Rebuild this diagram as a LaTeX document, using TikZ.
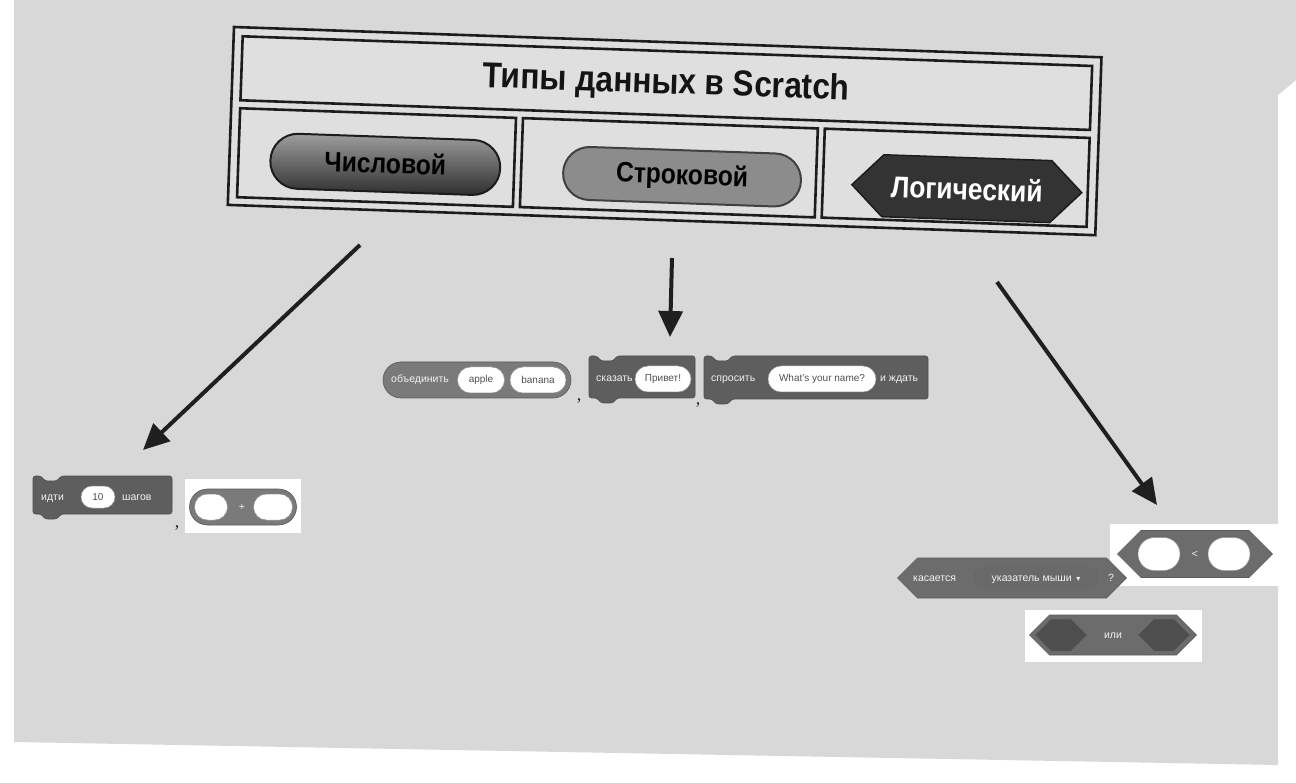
\documentclass[tikz,border=0pt]{standalone}
\usepackage{fontspec}
\setmainfont{Liberation Sans}
\newfontfamily\narb[FakeStretch=0.88]{Liberation Sans Bold}
\newfontfamily\serifc{Liberation Serif}
\newfontfamily\dejavu{DejaVu Sans}
\usetikzlibrary{arrows.meta,shapes.misc,shapes.symbols}
\definecolor{paper}{HTML}{D8D8D8}
\definecolor{cellbg}{HTML}{DFDFDF}
\definecolor{tcol}{HTML}{1C1C1C}
\definecolor{blkA}{HTML}{7A7A7A}
\definecolor{blkB}{HTML}{5E5E5E}
\definecolor{blkC}{HTML}{6C6C6C}
\definecolor{blkD}{HTML}{4E4E4E}
\definecolor{ovtxt}{HTML}{505050}
\newcommand{\scrstack}[5][]{%
  \draw[stackblk,#1] (#2,#5) -- (#2,#3) -- ({#2+8},#3) -- ({#2+12},{#3+5}) -- ({#2+24},{#3+5}) -- ({#2+28},#3) -- (#4,#3) -- (#4,#5) -- ({#2+28},#5) -- ({#2+24},{#5+5}) -- ({#2+12},{#5+5}) -- ({#2+8},#5) -- cycle;}
\begin{document}
\begin{tikzpicture}[x=1pt,y=-1pt,
  tline/.style={line width=2.6pt, draw=tcol},
  pillnum/.style={rounded rectangle, draw=tcol, line width=2pt, top color=black!38, bottom color=black!82, minimum width=230, minimum height=55, inner sep=0pt, font=\narb\fontsize{28}{30}\selectfont, text=black, transform shape},
  pillstr/.style={rounded rectangle, draw=black!75, line width=2pt, fill=black!45, minimum width=238, minimum height=53, inner sep=0pt, font=\narb\fontsize{28}{30}\selectfont, text=black, transform shape},
  hexlog/.style={signal, signal to=west and east, draw=tcol, line width=1.5pt, fill=black!80, minimum width=230, minimum height=62, inner sep=0pt, font=\narb\fontsize{30}{32}\selectfont, text=white, transform shape},
  stackblk/.style={fill=blkB, draw=black!70, line width=0.6pt, rounded corners=2.5pt},
  rep/.style={rounded rectangle, fill=blkA, draw=black!65, line width=0.6pt, inner sep=0pt},
  hexb/.style={signal, signal to=west and east, fill=blkC, draw=black!65, line width=0.6pt, inner sep=0pt},
  slot/.style={signal, signal to=west and east, fill=blkD, draw=black!60, line width=0.5pt, inner sep=0pt},
  oval/.style={rounded rectangle, fill=white, draw=black!40, line width=0.5pt, inner sep=0pt, font=\fontsize{10}{12}\selectfont, text=ovtxt},
  btxt/.style={font=\fontsize{10.5}{12}\selectfont, text=white!95!black, inner sep=0pt, text height=6pt, text depth=0pt},
  comma/.style={font=\serifc\fontsize{18}{20}\selectfont, text=black!85, inner sep=0pt},
  arr/.style={line width=4pt, draw=black!88, -{Triangle[length=26pt,width=24pt]}},
  patch/.style={fill=white}]
\useasboundingbox (0,0) rectangle (1296,783);
\fill[white] (0,0) rectangle (1296,783);
\fill[paper] (14,0) -- (1296,0) -- (1296,80) -- (1278,95) -- (1278,765) -- (14,742) -- cycle;

% ---------- table ----------
\begin{scope}[shift={(234,27)}, rotate=-2.0]
  \draw[tline, fill=cellbg] (0,0) rectangle (868,178);
  \draw[tline] (9,9) rectangle (859,73);
  \draw[tline] (9,81) rectangle (285,170);
  \draw[tline] (292,81) rectangle (587,170);
  \draw[tline] (594,81) rectangle (859,170);
  \node[font=\narb\fontsize{36}{40}\selectfont, text=black!92, transform shape] (title) at (434,42) {Типы данных в Scratch};
  \node[pillnum] (num) at (156,132) {\raisebox{3pt}{Числовой}};
  \node[pillstr] (str) at (453,134) {\raisebox{-6pt}{Строковой}};
  \node[hexlog] (log) at (738,136) {Логический};
\end{scope}

% ---------- arrows ----------
\coordinate (a1s) at (360,245);
\coordinate (a1e) at (143,450);
\coordinate (a2s) at (672,258);
\coordinate (a2e) at (670,337);
\coordinate (a3s) at (997,282);
\coordinate (a3e) at (1157,505);
\draw[arr] (a1s) -- (a1e);
\draw[arr] (a2s) -- (a2e);
\draw[arr] (a3s) -- (a3e);

% ---------- string blocks ----------
\node[rep, minimum width=188, minimum height=36] (join) at (477,380) {};
\node[btxt, anchor=west] (joint) at (391,380) {объединить};
\node[oval, minimum width=47, minimum height=26] (apple) at (481,380) {apple};
\node[oval, minimum width=56, minimum height=26] (banana) at (538,380) {banana};
\node[comma] (c1) at (579,401) {,};

\scrstack{589}{356}{695}{398}
\node[btxt, anchor=west] (sayt) at (596,379) {сказать};
\node[oval, minimum width=56, minimum height=26] (hello) at (663,379) {Привет!};
\node[comma] (c2) at (698,405) {,};

\scrstack{704}{356}{928}{399}
\node[btxt, anchor=west] (askt) at (711,379) {спросить};
\node[oval, minimum width=108, minimum height=26] (name) at (822,379) {What's your name?};
\node[btxt, anchor=west] (waitt) at (880,379) {и ждать};

% ---------- number blocks ----------
\scrstack{33}{476}{172}{514}
\node[btxt, anchor=west] (movet) at (41,497) {идти};
\node[oval, minimum width=34, minimum height=22] (ten) at (98,497) {10};
\node[btxt, anchor=west] (stepst) at (122,497) {шагов};
\node[comma] (c3) at (177,528) {,};

\fill[patch] (185,479) rectangle (301,533);
\node[rep, minimum width=107, minimum height=36] (plus) at (243,507) {};
\node[oval, minimum width=33, minimum height=26] (pl) at (211,507) {};
\node[oval, minimum width=39, minimum height=26] (pr) at (273,507) {};
\node[btxt] (plust) at (242,507) {+};

% ---------- boolean blocks ----------
\fill[patch] (1110,524) rectangle (1282,586);
\node[hexb, minimum width=155, minimum height=47] (lt) at (1195,554) {};
\node[oval, minimum width=42, minimum height=33] (ltl) at (1159,554) {};
\node[oval, minimum width=42, minimum height=33] (ltr) at (1229,554) {};
\node[btxt] (ltt) at (1195,554) {<};

\node[hexb, minimum width=229, minimum height=40] (touch) at (1012,578) {};
\node[btxt, anchor=west] (toucht) at (913,578) {касается};
\node[rounded rectangle, fill=blkD!85!white, draw=black!55, line width=0.4pt, minimum width=128, minimum height=26, inner sep=0pt] (menu) at (1036,578) {};
\node[btxt] (menut) at (1036,578) {указатель мыши \,{\dejavu\fontsize{8}{9}\selectfont ▾}};
\node[btxt] (q) at (1111,578) {?};

\fill[patch] (1025,610) rectangle (1202,662);
\node[hexb, minimum width=167, minimum height=40] (or) at (1113,635) {};
\node[slot, minimum width=52, minimum height=32] (orl) at (1061,635) {};
\node[slot, minimum width=52, minimum height=32] (orr) at (1164,635) {};
\node[btxt] (ort) at (1113,635) {или};
\end{tikzpicture}
\end{document}
